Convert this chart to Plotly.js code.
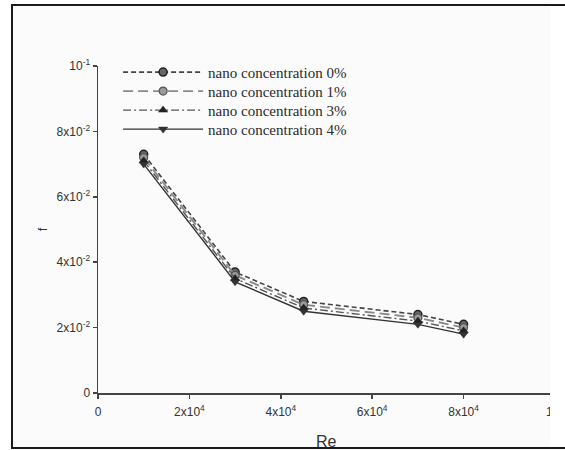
<!DOCTYPE html>
<html>
<head>
<meta charset="utf-8">
<script src="https://cdn.plot.ly/plotly-3.0.1.min.js"></script>
<style>
  html, body { margin: 0; padding: 0; width: 565px; height: 450px; overflow: hidden; background: #ffffff; }
  #bg { position: absolute; left: 13px; top: 6px; width: 552px; height: 441px; background: #fbfbfb; z-index: 0; }
  #chart { position: absolute; left: 0; top: 0; width: 565px; height: 450px; z-index: 1; }
  #frame { position: absolute; left: 11px; top: 4px; width: 560px; height: 441px;
           border-left: 2px solid #1a1a1a; border-top: 2px solid #1a1a1a; border-bottom: 2px solid #1a1a1a;
           z-index: 3; pointer-events: none; }
  #cutR { position: absolute; left: 550px; top: 6px; width: 15px; height: 441px; background: #ffffff; z-index: 2; }
  #cutB { position: absolute; left: 0; top: 448px; width: 565px; height: 2px; background: #ffffff; z-index: 2; }
</style>
</head>
<body>
<div id="bg"></div>
<div id="chart"></div>
<div id="cutR"></div>
<div id="cutB"></div>
<div id="frame"></div>
<script>
// Data
const re = [10000, 30000, 45000, 70000, 80000];
const seriesNames = ['nano concentration 0%', 'nano concentration 1%', 'nano concentration 3%', 'nano concentration 4%'];
const f0 = [0.073, 0.037, 0.028, 0.024, 0.021];
const f1 = [0.072, 0.036, 0.027, 0.023, 0.020];
const f3 = [0.071, 0.035, 0.026, 0.022, 0.019];
const f4 = [0.070, 0.034, 0.025, 0.021, 0.018];

const xTickVals = [0, 20000, 40000, 60000, 80000, 100000];
const xTickText = ['0', '2x10<sup>4</sup>', '4x10<sup>4</sup>', '6x10<sup>4</sup>', '8x10<sup>4</sup>', '10<sup>5</sup>'];
const yTickVals = [0, 0.02, 0.04, 0.06, 0.08, 0.1];
const yTickText = ['0', '2x10<sup>-2</sup>', '4x10<sup>-2</sup>', '6x10<sup>-2</sup>', '8x10<sup>-2</sup>', '10<sup>-1</sup>'];

const styles = [
  {dash: '5px,3px', color: '#444444', width: 1.6, marker: {symbol: 'circle', size: 8, color: '#666666', line: {color: '#222222', width: 1.5}}},
  {dash: '10px,5px', color: '#8a8a8a', width: 1.9, marker: {symbol: 'circle', size: 8, color: '#9a9a9a', line: {color: '#555555', width: 1.2}}},
  {dash: '8px,3px,2px,3px', color: '#555555', width: 1.4, marker: {symbol: 'triangle-up', size: 8, color: '#222222', line: {color: '#222222', width: 0.5}}},
  {dash: 'solid', color: '#333333', width: 1.4, marker: {symbol: 'triangle-down', size: 8, color: '#333333', line: {color: '#222222', width: 0.5}}}
];
const ys = [f0, f1, f3, f4];

const traces = ys.map((y, i) => ({
  x: re, y: y, name: seriesNames[i], type: 'scatter', mode: 'lines+markers',
  line: {color: styles[i].color, width: styles[i].width, dash: styles[i].dash},
  marker: styles[i].marker
}));

const tickFont = {family: 'Liberation Sans, Arial, sans-serif', size: 12, color: '#333333'};

const layout = {
  width: 565, height: 450,
  margin: {l: 98, r: 10, t: 66, b: 57, autoexpand: false},
  paper_bgcolor: 'rgba(0,0,0,0)', plot_bgcolor: 'rgba(0,0,0,0)',
  showlegend: true,
  legend: {
    x: 0.044, y: 1.031, xanchor: 'left', yanchor: 'top',
    bgcolor: 'rgba(0,0,0,0)', borderwidth: 0,
    itemwidth: 80,
    font: {family: 'Liberation Serif, Times New Roman, serif', size: 15, color: '#2a2a2a'}
  },
  xaxis: {
    range: [0, 100000], tickvals: xTickVals, ticktext: xTickText,
    showgrid: false, zeroline: false, showline: true, linecolor: '#444444', linewidth: 1.5,
    ticks: 'outside', ticklen: 4, tickcolor: '#444444', tickwidth: 1.5,
    tickfont: tickFont, ticklabelstandoff: 3, automargin: false
  },
  yaxis: {
    range: [0, 0.1], tickvals: yTickVals, ticktext: yTickText,
    showgrid: false, zeroline: false, showline: true, linecolor: '#444444', linewidth: 1.5,
    ticks: 'outside', ticklen: 4, tickcolor: '#444444', tickwidth: 1.5,
    tickfont: tickFont, automargin: false,
    title: {text: 'f', font: {family: 'Liberation Sans, Arial, sans-serif', size: 13, color: '#333333'}, standoff: 6}
  },
  annotations: [{
    text: 'Re', xref: 'paper', yref: 'paper', x: 0.5, y: -0.147, xanchor: 'center', yanchor: 'middle',
    showarrow: false, font: {family: 'Liberation Sans, Arial, sans-serif', size: 16, color: '#333333'}
  }]
};

Plotly.newPlot('chart', traces, layout, {staticPlot: true, displayModeBar: false}).then(gd => {
  // tighten legend row spacing to match the reference (19px per row)
  const items = gd.querySelectorAll('.legend .traces');
  let y0 = null;
  items.forEach((el, i) => {
    const t = el.getAttribute('transform') || '';
    const m = /translate\(\s*([-\d.e]+)[ ,]+([-\d.e]+)\s*\)/.exec(t);
    if (!m) return;
    const x = parseFloat(m[1]);
    const y = parseFloat(m[2]);
    if (y0 === null) y0 = y;
    el.setAttribute('transform', 'translate(' + x + ',' + (y0 + i * 19) + ')');
  });
});
</script>
</body>
</html>
